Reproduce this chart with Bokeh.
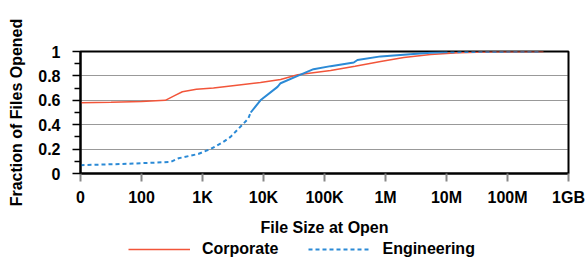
from bokeh.plotting import figure
from bokeh.layouts import column
from bokeh.models import (FixedTicker, Legend, LegendItem)
from bokeh.embed import file_html
from bokeh.resources import INLINE

# x positions are log10-scale slots: 1 -> "0", 2 -> "100", ..., 9 -> "1GB"
x_ticks = [1, 2, 3, 4, 5, 6, 7, 8, 9]
x_labels = ["0", "100", "1K", "10K", "100K", "1M", "10M", "100M", "1GB"]
y_ticks = [0, 0.2, 0.4, 0.6, 0.8, 1]
y_labels = ["0", "0.2", "0.4", "0.6", "0.8", "1"]

corp_x = [1.0, 1.5, 2.0, 2.39, 2.55, 2.67, 2.9, 3.18, 3.6, 3.95, 4.28, 4.56,
          5.1, 5.5, 5.92, 6.3, 6.74, 7.2, 7.8, 8.59]
corp_y = [0.58, 0.583, 0.59, 0.60, 0.64, 0.67, 0.69, 0.70, 0.725, 0.745, 0.77,
          0.81, 0.845, 0.88, 0.918, 0.95, 0.975, 0.99, 0.997, 1.0]

eng_x = [1.0, 1.8, 2.48, 2.61, 2.93, 3.13, 3.33, 3.46, 3.75, 3.79, 3.95, 4.23,
         4.28, 4.56, 4.82, 5.10, 5.48, 5.54, 5.92, 6.46, 6.74, 6.95, 7.5, 8.0, 8.54]
eng_y = [0.068, 0.08, 0.095, 0.125, 0.16, 0.20, 0.255, 0.30, 0.45, 0.50, 0.60,
         0.71, 0.74, 0.80, 0.855, 0.88, 0.91, 0.93, 0.96, 0.98, 0.99, 0.993,
         0.997, 0.999, 1.0]
series_names = ["Corporate", "Engineering"]

RED = "#f2553a"
BLUE = "#2b8ad6"
FONT = "Liberation Sans"
FS = "16px"

p = figure(frame_width=488, frame_height=122, x_range=(1, 9), y_range=(0, 1),
           output_backend="svg", toolbar_location=None,
           min_border_left=80, min_border_right=18, min_border_top=51,
           min_border_bottom=60)

p.outline_line_color = "black"
p.outline_line_width = 2

p.xgrid.visible = False
p.ygrid.ticker = FixedTicker(ticks=[0.2, 0.4, 0.6, 0.8])
p.ygrid.grid_line_color = "#333333"
p.ygrid.grid_line_dash = "1 1"
p.ygrid.grid_line_width = 1

xa = p.xaxis[0]
xa.ticker = FixedTicker(ticks=x_ticks)
xa.major_label_overrides = {t: l for t, l in zip(x_ticks, x_labels)}
xa.axis_line_width = 2
xa.axis_line_color = "black"
xa.major_tick_line_color = "#888888"
xa.major_tick_line_width = 2
xa.major_tick_in = 0
xa.major_tick_out = 8
xa.minor_tick_line_color = None
xa.major_label_standoff = 7
xa.major_label_text_font = FONT
xa.major_label_text_font_style = "bold"
xa.major_label_text_font_size = FS
xa.major_label_text_color = "black"
xa.axis_label = "File Size at Open"
xa.axis_label_text_font = FONT
xa.axis_label_text_font_style = "bold"
xa.axis_label_text_font_size = FS
xa.axis_label_text_color = "black"
xa.axis_label_standoff = 10

ya = p.yaxis[0]
ya.ticker = FixedTicker(ticks=y_ticks, minor_ticks=[0.1, 0.3, 0.5, 0.7, 0.9])
ya.major_label_overrides = {t: l for t, l in zip(y_ticks, y_labels)}
ya.axis_line_width = 2
ya.axis_line_color = "black"
ya.major_tick_line_color = "black"
ya.major_tick_line_width = 1.5
ya.major_tick_in = 0
ya.major_tick_out = 8
ya.minor_tick_line_color = "black"
ya.minor_tick_line_width = 1.5
ya.minor_tick_in = 0
ya.minor_tick_out = 6
ya.major_label_standoff = 12
ya.major_label_text_font = FONT
ya.major_label_text_font_style = "bold"
ya.major_label_text_font_size = FS
ya.major_label_text_color = "black"
ya.axis_label = "Fraction of Files Opened"
ya.axis_label_text_font = FONT
ya.axis_label_text_font_style = "bold"
ya.axis_label_text_font_size = FS
ya.axis_label_text_color = "black"
ya.axis_label_standoff = 10

p.line(corp_x, corp_y, line_color=RED, line_width=1.5)

# Engineering: dashed where points are sparse, dense (solid-looking) in middle
split_a = 9
split_b = 21
p.line(eng_x[:split_a + 1], eng_y[:split_a + 1], line_color=BLUE,
       line_width=2, line_dash="4 3")
p.line(eng_x[split_a:split_b + 1], eng_y[split_a:split_b + 1], line_color=BLUE,
       line_width=2)
p.line(eng_x[split_b:], eng_y[split_b:], line_color=BLUE, line_width=2,
       line_dash="4 3")

# Legend strip below the chart (its frame is aligned with the chart's frame)
lg = figure(width=586, height=24, x_range=(0, 1), y_range=(0, 1),
            output_backend="svg", toolbar_location=None, min_border=0,
            x_axis_location=None, y_axis_location=None)
lg.grid.visible = False
lg.outline_line_color = None
lr = lg.line([5, 6], [5, 6], line_color=RED, line_width=1.5)
lb = lg.line([5, 6], [5, 6], line_color=BLUE, line_width=2, line_dash="4 3")
legend = Legend(items=[LegendItem(label=series_names[0], renderers=[lr]),
                       LegendItem(label=series_names[1], renderers=[lb])],
                orientation="horizontal", location=(46, 2),
                glyph_width=62, glyph_height=16, label_standoff=12, spacing=30,
                padding=2, margin=0,
                border_line_alpha=0, background_fill_alpha=0,
                label_text_font=FONT, label_text_font_style="bold",
                label_text_font_size=FS, label_text_color="black")
lg.add_layout(legend, "center")

layout = column(p, lg, spacing=0)
open("out.html", "w").write(file_html(layout, INLINE))
